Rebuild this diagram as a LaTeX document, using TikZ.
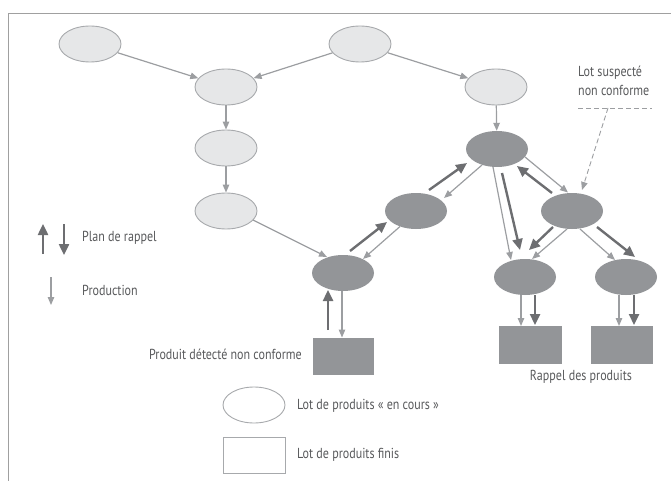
\documentclass[tikz,border=0pt]{standalone}
\usepackage{fontspec}
\setmainfont{PT Sans}[FakeStretch=0.83]
\usetikzlibrary{arrows.meta,shapes.geometric}

\definecolor{lightfill}{HTML}{E6E7E8}
\definecolor{lightedge}{HTML}{A7A9AC}
\definecolor{darkfill}{HTML}{939598}
\definecolor{thinline}{HTML}{9C9EA1}
\definecolor{thickline}{HTML}{6D6E71}
\definecolor{textgray}{HTML}{58595B}
\definecolor{framegray}{HTML}{A0A0A0}

\tikzset{
  lot/.style={ellipse, minimum width=62pt, minimum height=36pt, inner sep=0pt},
  encours/.style={lot, draw=lightedge, fill=lightfill, line width=0.9pt},
  suspect/.style={lot, fill=darkfill},
  fini/.style={rectangle, fill=darkfill, inner sep=0pt},
  prod/.style={draw=thinline, line width=1.2pt, -{Triangle[length=8pt,width=6.5pt]}},
  rappel/.style={draw=thickline, line width=2.4pt, -{Triangle[length=11pt,width=10pt]}},
  txt/.style={text=textgray, font=\fontsize{14.5}{19}\selectfont, inner sep=0pt},
}

\begin{document}
\begin{tikzpicture}[x=1pt,y=-1pt]
\useasboundingbox (0,0) rectangle (671,481);

% frame (top and left edges)
\draw[framegray, line width=1.2pt] (671,13.5) -- (8.5,13.5) -- (8.5,481);

% lots in progress
\node[encours] (e1) at (90,44) {};
\node[encours] (e2) at (360,44) {};
\node[encours] (e3) at (226,87) {};
\node[encours] (e4) at (496,87) {};
\node[encours] (e5) at (226,148) {};
\node[encours] (e6) at (226,211) {};

% suspect lots
\node[suspect] (d1) at (497,149) {};
\node[suspect] (d2) at (416,211) {};
\node[suspect] (d3) at (572,211) {};
\node[suspect] (d4) at (343,273) {};
\node[suspect] (d5) at (525,277) {};
\node[suspect] (d6) at (626,277) {};

% finished products
\node[fini, minimum width=61pt, minimum height=37pt] (r1) at (343,356) {};
\node[fini, minimum width=63pt, minimum height=38pt] (r2) at (530,345) {};
\node[fini, minimum width=62pt, minimum height=38pt] (r3) at (622,345) {};

% production flow
\draw[prod] (e1) -- (e3);
\draw[prod] (e2) -- (e3);
\draw[prod] (e2) -- (e4);
\draw[prod] (e3) -- (e5);
\draw[prod] (e5) -- (e6);
\draw[prod] (e4) -- (d1);
\draw[prod] ([shift={(27,9)}]e6.center) -- ([shift={(-16,-16)}]d4.center);
\draw[prod] ([shift={(-1,18)}]d4.center) -- ([shift={(-1,-18.5)}]r1.center);
\draw[prod] ([shift={(-16,15.5)}]d2.center) -- ([shift={(20,-14)}]d4.center);
\draw[prod] ([shift={(-15,16)}]d1.center) -- ([shift={(28,-13)}]d2.center);
\draw[prod] ([shift={(28,8)}]d1.center) -- ([shift={(-4,-18.5)}]d3.center);
\draw[prod] ([shift={(-4,18)}]d1.center) -- ([shift={(-14,-17)}]d5.center);
\draw[prod] ([shift={(-5,18)}]d3.center) -- ([shift={(7,-18)}]d5.center);
\draw[prod] ([shift={(8,18)}]d3.center) -- ([shift={(-11,-17)}]d6.center);
\draw[prod] ([shift={(-4,18)}]d5.center) -- ([shift={(-9,-19)}]r2.center);
\draw[prod] ([shift={(-7,18)}]d6.center) -- ([shift={(-3,-19)}]r3.center);

% recall plan
\draw[rappel] ([shift={(-15,-26)}]r1.center) -- ([shift={(-15,17)}]d4.center);
\draw[rappel] ([shift={(7,-22)}]d4.center) -- ([shift={(-29,11)}]d2.center);
\draw[rappel] ([shift={(13,-21)}]d2.center) -- ([shift={(-30,14)}]d1.center);
\draw[rappel] ([shift={(-20,-18)}]d3.center) -- ([shift={(20,17)}]d1.center);
\draw[rappel] ([shift={(5,24)}]d1.center) -- ([shift={(-5,-27)}]d5.center);
\draw[rappel] ([shift={(-19,16)}]d3.center) -- ([shift={(4,-27)}]d5.center);
\draw[rappel] ([shift={(25,16)}]d3.center) -- ([shift={(9,-20)}]d6.center);
\draw[rappel] ([shift={(10,18)}]d5.center) -- ([shift={(5,-20)}]r2.center);
\draw[rappel] ([shift={(8,18)}]d6.center) -- ([shift={(12,-20)}]r3.center);

% suspect-lot callout
\node[txt, align=left, anchor=north west] (sus) at (578,66) {Lot suspecté\\non conforme};
\coordinate (ul0) at (578,108);
\coordinate (ul1) at (652,108);
\coordinate (ulm) at (608,108);
\draw[thinline, line width=0.9pt, dash pattern=on 5pt off 3pt] (ul0) -- (ul1);
\draw[thinline, line width=0.9pt, dash pattern=on 5pt off 3pt, -{Triangle[length=8pt,width=6.5pt]}] (ulm) -- ([shift={(10,-21)}]d3.center);

% labels
\node[txt, anchor=east] (pdnc) at (302,354) {Produit détecté non conforme};
\node[txt] (rdp) at (581,377) {Rappel des produits};

% legend
\coordinate (ru0) at (43,254);
\coordinate (ru1) at (43,224);
\coordinate (rd0) at (64,224);
\coordinate (rd1) at (64,255);
\coordinate (p0) at (51,277);
\coordinate (p1) at (51,305);
\draw[rappel] (ru0) -- (ru1);
\draw[rappel] (rd0) -- (rd1);
\draw[prod] (p0) -- (p1);
\node[txt, anchor=west] (lpr) at (82,238) {Plan de rappel};
\node[txt, anchor=west] (lpd) at (82,290) {Production};

\node[lot, draw=lightedge, line width=0.9pt, fill=white] (le) at (254,405) {};
\node[rectangle, draw=lightedge, line width=0.9pt, minimum width=62pt, minimum height=36pt] (lr) at (254,455) {};
\node[txt, anchor=west] (lte) at (297,406) {Lot de produits « en cours »};
\node[txt, anchor=west] (ltr) at (297,455) {Lot de produits finis};
\end{tikzpicture}
\end{document}
